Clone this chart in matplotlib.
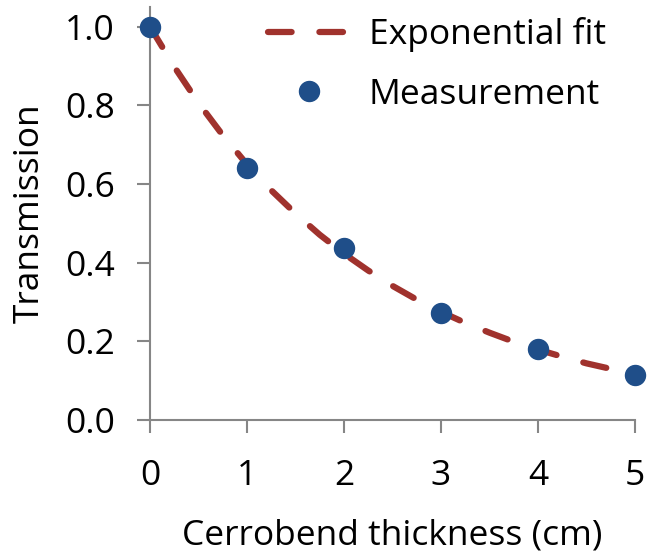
import matplotlib
matplotlib.use("Agg")
import matplotlib.pyplot as plt

# Measurement data
thickness = [0, 1, 2, 3, 4, 5]
transmission = [1.0, 0.641, 0.437, 0.272, 0.180, 0.114]

# Exponential fit curve
fit_x = [0, 0.25, 0.5, 0.75, 1, 1.25, 1.5, 1.75, 2, 2.25, 2.5, 2.75,
         3, 3.25, 3.5, 3.75, 4, 4.25, 4.5, 4.75, 5]
fit_y = [1.0, 0.898, 0.806, 0.724, 0.650, 0.584, 0.525, 0.471, 0.423, 0.380,
         0.341, 0.306, 0.275, 0.247, 0.222, 0.199, 0.179, 0.161, 0.144, 0.130, 0.116]

x_ticks = [0, 1, 2, 3, 4, 5]
y_ticks = [0.0, 0.2, 0.4, 0.6, 0.8, 1.0]
y_tick_labels = ["0.0", "0.2", "0.4", "0.6", "0.8", "1.0"]

plt.rcParams['font.family'] = ['Open Sans', 'DejaVu Sans']
plt.rcParams['lines.scale_dashes'] = False

W, H = 647, 554
fig = plt.figure(figsize=(W/100, H/100), dpi=100)
ax = fig.add_axes([150/W, (H-420)/H, (635-150)/W, 413/H])

line_color = '#A0322D'
pt_color = '#1F4E89'
axis_color = '#868686'
FS = 25.5

ax.plot(fit_x, fit_y, color=line_color, lw=4.5, dashes=(17, 20),
        dash_capstyle='round', label='Exponential fit', zorder=2)
ax.plot(thickness, transmission, linestyle='none', marker='o', ms=14.4,
        color=pt_color, label='Measurement', zorder=3, clip_on=False)

ax.set_xlim(0, 5)
ax.set_ylim(0, 1.05)
ax.set_xticks(x_ticks)
ax.set_yticks(y_ticks)
ax.set_yticklabels(y_tick_labels)

for s in ['top', 'right']:
    ax.spines[s].set_visible(False)
for s in ['left', 'bottom']:
    ax.spines[s].set_color(axis_color)
    ax.spines[s].set_linewidth(1.5)

ax.tick_params(axis='both', direction='out', length=9.4, width=1.5,
               color=axis_color, labelsize=FS, labelcolor='black')
ax.tick_params(axis='y', pad=16)
ax.tick_params(axis='x', pad=19)

ax.set_xlabel('Cerrobend thickness (cm)', fontsize=FS, labelpad=18)
ax.set_ylabel('Transmission', fontsize=FS, labelpad=13)

leg = ax.legend(loc='upper left', bbox_to_anchor=(268/W, 1 - 17/H),
                bbox_transform=fig.transFigure, frameon=False,
                fontsize=FS, handlelength=2.3, handletextpad=0.55,
                labelspacing=0.73, borderpad=0.0, borderaxespad=0.0)

fig.savefig('out.png', dpi=100)
